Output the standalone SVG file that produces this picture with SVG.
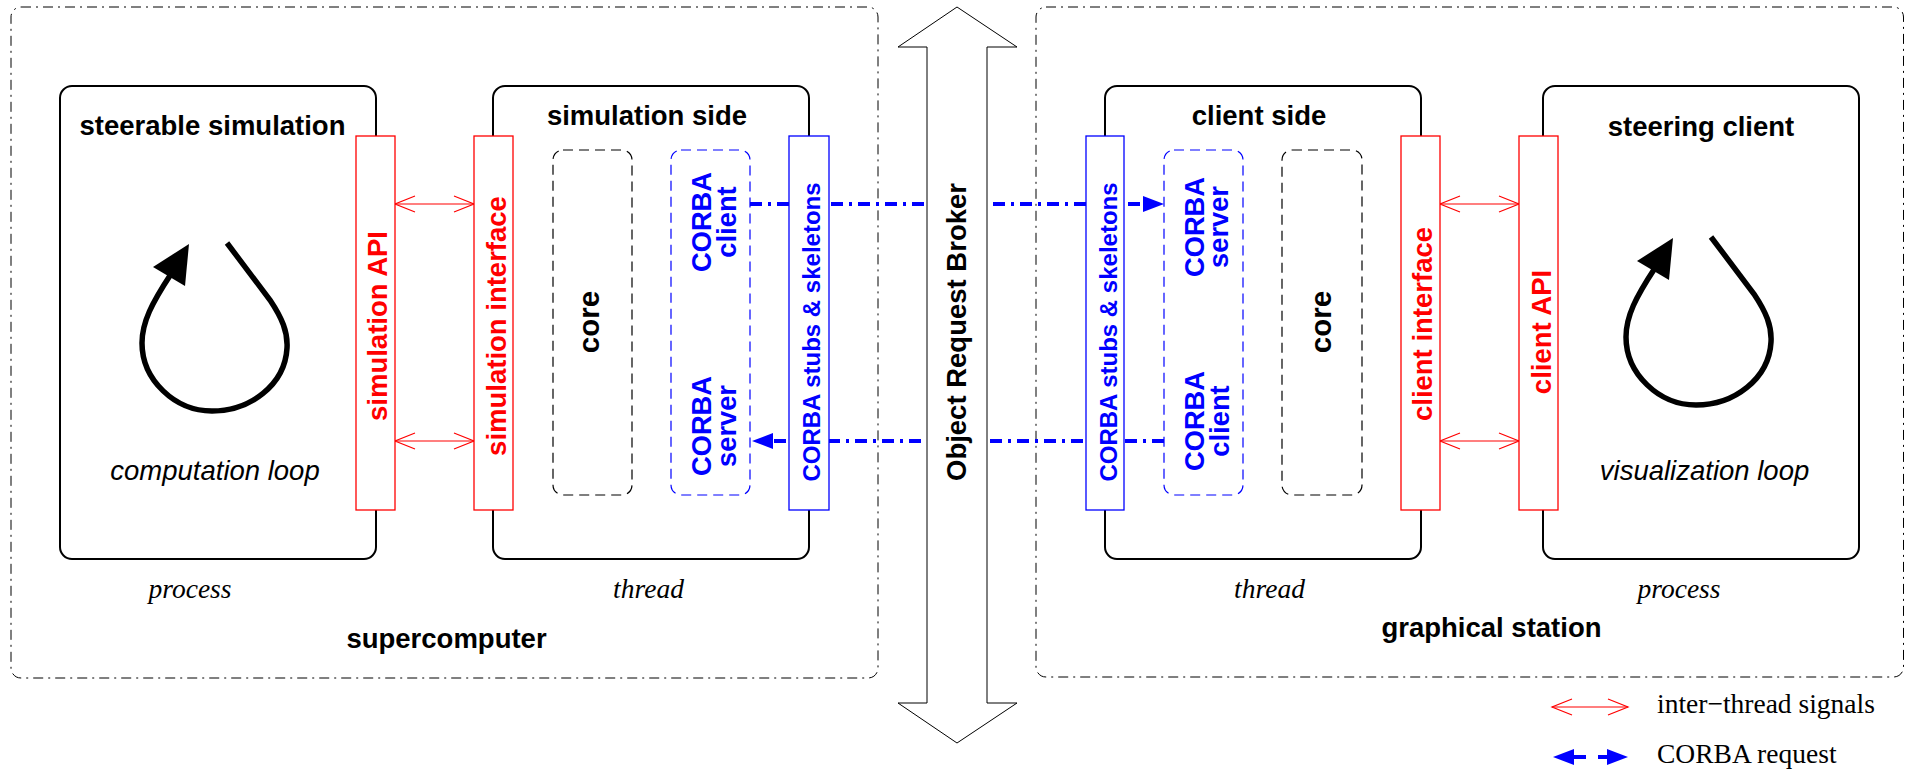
<svg xmlns="http://www.w3.org/2000/svg" width="1905" height="771" viewBox="0 0 1905 771">
  <defs>
    <style>
      .machine { fill: none; stroke: #000; stroke-width: 1; stroke-dasharray: 10 5 2 5; }
      .box { fill: #fff; stroke: #000; stroke-width: 2; }
      .dash-k { fill: none; stroke: #000; stroke-width: 1.2; stroke-dasharray: 10 6; }
      .dash-b { fill: none; stroke: #00f; stroke-width: 1.2; stroke-dasharray: 10 6; }
      .bar-r { fill: #fff; stroke: #f00; stroke-width: 1.3; }
      .bar-b { fill: #fff; stroke: #00f; stroke-width: 1.3; }
      .sig { stroke: #f00; stroke-width: 1.2; fill: none; marker-start: url(#vhead); marker-end: url(#vhead); }
      .req { stroke: #00f; stroke-width: 4; fill: none; stroke-dasharray: 12 6 3 6; marker-end: url(#fhead); }
      .loop { fill: none; stroke: #000; stroke-width: 5.5; }
      .t { font-family: "Liberation Sans", Arial, sans-serif; font-weight: bold; font-size: 27.5px; text-anchor: middle; }
      .it { font-family: "Liberation Sans", Arial, sans-serif; font-style: italic; font-size: 27.5px; text-anchor: middle; }
      .sr { font-family: "Liberation Serif", "Times New Roman", serif; font-style: italic; font-size: 27.5px; text-anchor: middle; }
      .lg { font-family: "Liberation Serif", "Times New Roman", serif; font-size: 27.5px; }
      .red { fill: #f00; }
      .blue { fill: #00f; }
    </style>
    <marker id="vhead" markerUnits="userSpaceOnUse" viewBox="-22 -10 24 20" refX="0" refY="0" markerWidth="24" markerHeight="20" orient="auto-start-reverse" overflow="visible">
      <path d="M-20,-8 L0,0 L-20,8" fill="none" stroke="#f00" stroke-width="1.2"/>
    </marker>
    <marker id="fhead" markerUnits="userSpaceOnUse" viewBox="0 -10 22 20" refX="0" refY="0" markerWidth="22" markerHeight="20" orient="auto-start-reverse" overflow="visible">
      <path d="M0,-8 L21,0 L0,8 Z" fill="#00f"/>
    </marker>
  </defs>

  <!-- machines -->
  <g id="supercomputer">
    <rect class="machine" x="11" y="7" width="867" height="671" rx="10"/>
    <text class="t" x="446.5" y="648">supercomputer</text>
  </g>
  <g id="graphical-station">
    <rect class="machine" x="1036" y="7" width="867.5" height="670" rx="10"/>
    <text class="t" x="1491.5" y="637">graphical station</text>
  </g>

  <!-- processes and threads -->
  <g id="steerable-simulation">
    <rect class="box" x="60" y="86" width="316" height="473" rx="12"/>
    <text class="t" x="212.5" y="135">steerable simulation</text>
    <path class="loop" d="M227,243 L270,300 C282,318 288,332 287,348 C285,385 250,411 212,411 C175,411 142,380 142,343 C142,322 152,303 171,274"/>
    <polygon points="189,244 153,267 185,286" fill="#000"/>
    <text class="it" x="215" y="480">computation loop</text>
    <text class="sr" x="190" y="598">process</text>
  </g>
  <g id="simulation-side">
    <rect class="box" x="493" y="86" width="316" height="473" rx="12"/>
    <text class="t" x="647" y="125">simulation side</text>
    <text class="sr" x="648.5" y="598">thread</text>
  </g>
  <g id="client-side">
    <rect class="box" x="1105" y="86" width="316" height="473" rx="12"/>
    <text class="t" x="1259" y="125">client side</text>
    <text class="sr" x="1269.5" y="598">thread</text>
  </g>
  <g id="steering-client">
    <rect class="box" x="1543" y="86" width="316" height="473" rx="12"/>
    <text class="t" x="1701" y="136">steering client</text>
    <g transform="translate(1484,-6)">
      <path class="loop" d="M227,243 L270,300 C282,318 288,332 287,348 C285,385 250,411 212,411 C175,411 142,380 142,343 C142,322 152,303 171,274"/>
      <polygon points="189,244 153,267 185,286" fill="#000"/>
    </g>
    <text class="it" x="1704.5" y="480">visualization loop</text>
    <text class="sr" x="1679" y="598">process</text>
  </g>

  <!-- inner modules -->
  <g id="sim-core">
    <rect class="dash-k" x="553" y="150" width="79" height="345" rx="10"/>
    <text class="t" style="font-size:29.5px" transform="translate(599,322) rotate(-90)">core</text>
  </g>
  <g id="sim-corba">
    <rect class="dash-b" x="671" y="150" width="79" height="345" rx="10"/>
    <g class="t blue" style="font-size:27.3px">
      <text transform="translate(711,222) rotate(-90)">CORBA</text>
      <text transform="translate(736,222) rotate(-90)">client</text>
      <text transform="translate(711,426) rotate(-90)">CORBA</text>
      <text transform="translate(736,426) rotate(-90)">server</text>
    </g>
  </g>
  <g id="cli-corba">
    <rect class="dash-b" x="1164" y="150" width="79" height="345" rx="10"/>
    <g class="t blue" style="font-size:27.3px">
      <text transform="translate(1204,227) rotate(-90)">CORBA</text>
      <text transform="translate(1228,227) rotate(-90)">server</text>
      <text transform="translate(1204,421) rotate(-90)">CORBA</text>
      <text transform="translate(1229,421) rotate(-90)">client</text>
    </g>
  </g>
  <g id="cli-core">
    <rect class="dash-k" x="1282" y="150" width="80" height="345" rx="10"/>
    <text class="t" style="font-size:29.5px" transform="translate(1331,322) rotate(-90)">core</text>
  </g>

  <!-- CORBA requests and inter-thread signals -->
  <g id="connectors">
    <line class="req" x1="750" y1="204" x2="1143" y2="204"/>
    <line class="req" x1="1164" y1="441" x2="773" y2="441"/>
    <line class="sig" x1="395" y1="204" x2="474" y2="204"/>
    <line class="sig" x1="395" y1="441" x2="474" y2="441"/>
    <line class="sig" x1="1440" y1="204" x2="1519" y2="204"/>
    <line class="sig" x1="1440" y1="441" x2="1519" y2="441"/>
  </g>

  <!-- interface bars -->
  <g id="simulation-api">
    <rect class="bar-r" x="356" y="136" width="39" height="374"/>
    <text class="t red" transform="translate(387,326) rotate(-90)">simulation API</text>
  </g>
  <g id="simulation-interface">
    <rect class="bar-r" x="474" y="136" width="39" height="374"/>
    <text class="t red" transform="translate(506,326) rotate(-90)">simulation interface</text>
  </g>
  <g id="sim-stubs">
    <rect class="bar-b" x="789" y="136" width="40" height="374"/>
    <text class="t blue" style="font-size:24px" transform="translate(820,332) rotate(-90)">CORBA stubs &amp; skeletons</text>
  </g>
  <g id="cli-stubs">
    <rect class="bar-b" x="1086" y="136" width="38" height="374"/>
    <text class="t blue" style="font-size:24px" transform="translate(1117,332) rotate(-90)">CORBA stubs &amp; skeletons</text>
  </g>
  <g id="client-interface">
    <rect class="bar-r" x="1401" y="136" width="39" height="374"/>
    <text class="t red" transform="translate(1432,324) rotate(-90)">client interface</text>
  </g>
  <g id="client-api">
    <rect class="bar-r" x="1519" y="136" width="39" height="374"/>
    <text class="t red" transform="translate(1551,332) rotate(-90)">client API</text>
  </g>

  <!-- object request broker -->
  <g id="orb">
    <polygon points="957,7 1017,47 987,47 987,703 1017,703 957,743 898,703 927,703 927,47 898,47" fill="#fff" stroke="#000" stroke-width="1"/>
    <text class="t" transform="translate(966,332) rotate(-90)">Object Request Broker</text>
  </g>

  <!-- legend -->
  <g id="legend">
    <line class="sig" x1="1552" y1="707" x2="1628" y2="707"/>
    <text class="lg" x="1657" y="713">inter−thread signals</text>
    <line x1="1574" y1="757" x2="1607" y2="757" stroke="#00f" stroke-width="4" stroke-dasharray="12 12" marker-start="url(#fhead)" marker-end="url(#fhead)"/>
    <text class="lg" x="1657" y="763">CORBA request</text>
  </g>
</svg>
